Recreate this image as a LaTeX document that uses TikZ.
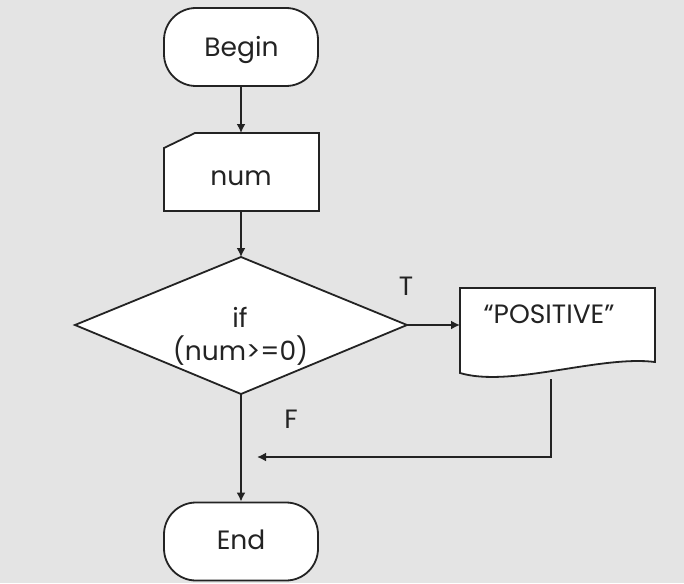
\documentclass[tikz,border=0pt]{standalone}
\usepackage{fontspec}
\setmainfont{Poppins}
\usetikzlibrary{arrows.meta}
\definecolor{bg}{RGB}{228,228,228}
\definecolor{ink}{RGB}{35,35,35}
\begin{document}
\begin{tikzpicture}[x=1pt,y=-1pt,
  flow/.style={draw=ink, line width=1.8pt, -{Latex[length=9pt,width=9pt]}},
  box/.style={draw=ink, fill=white, line width=1.8pt},
  lbl/.style={font=\fontsize{26.5}{30}\selectfont, text=ink, inner sep=0pt, anchor=base},
  term/.style={box, rounded corners=32pt, minimum width=154pt, minimum height=78pt}]
\fill[bg] (0,0) rectangle (684,583);
\useasboundingbox (0,0) rectangle (684,583);

% start terminal
\node[term] (begin) at (241,47) {};
\node[lbl] (begintxt) at (241.5,57) {Begin};

% input
\draw[box] (164,148) -- (195,133) -- (319,133) -- (319,211) -- (164,211) -- cycle;
\coordinate (intop) at (241,133);
\coordinate (inbot) at (241,211);
\node[lbl] (numtxt) at (241,185) {num};

% decision
\coordinate (dtop) at (241,257);
\coordinate (dright) at (407,325);
\coordinate (dbot) at (241,394);
\coordinate (dleft) at (75,325);
\draw[box] (dtop) -- (dright) -- (dbot) -- (dleft) -- cycle;
\node[lbl] (iftxt) at (240,327) {if};
\node[lbl] (condtxt) at (240.5,360) {(num>=0)};

% output document
\draw[box] (460,288) -- (655,288) -- (655,362)
  .. controls (600,355) and (510,388) .. (460,373) -- cycle;
\coordinate (docin) at (460,325);
\coordinate (docout) at (551,379);
\node[lbl] (postxt) at (549,323) {“POSITIVE”};

% end terminal
\node[term] (end) at (241,541.5) {};
\node[lbl] (endtxt) at (241,549) {End};

% branch labels
\node[lbl] (tlbl) at (406,295) {T};
\node[lbl] (flbl) at (291,428) {F};

% connectors
\coordinate (join) at (257,457);
\draw[flow] (begin.south) -- (intop);
\draw[flow] (inbot) -- (dtop);
\draw[flow] (dright) -- (docin);
\draw[flow] (dbot) -- (end.north);
\draw[flow] (docout) |- (join);
\end{tikzpicture}
\end{document}
